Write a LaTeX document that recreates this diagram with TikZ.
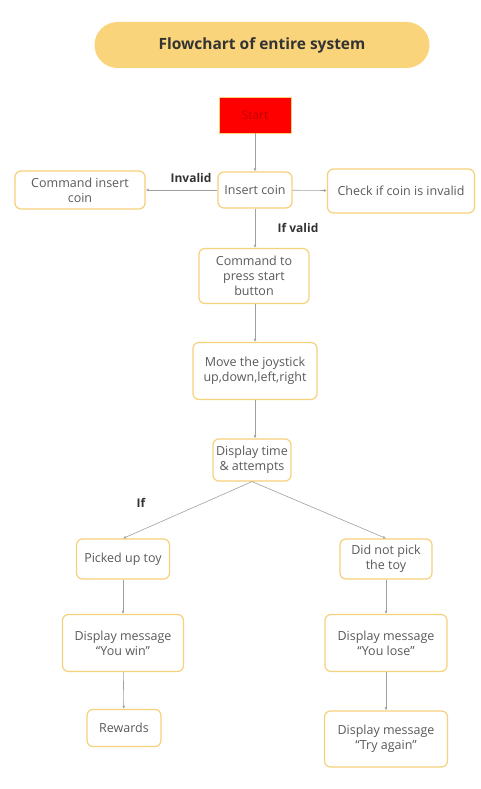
\documentclass[tikz,border=0pt]{standalone}
\usepackage{fontspec}
\setmainfont{Open Sans}
\usetikzlibrary{arrows.meta}
\definecolor{boxline}{HTML}{F7D07A}
\definecolor{pill}{HTML}{F9D47A}
\definecolor{linegray}{HTML}{A0A0A0}
\definecolor{textgray}{HTML}{5A5A5A}
\tikzset{
  box/.style={draw=boxline, line width=1.2pt, rounded corners=6pt, fill=white,
    text=textgray, align=center, inner sep=1pt,
    font=\fontsize{12.5}{15}\selectfont},
  flow/.style={draw=linegray, line width=0.6pt, -{Latex[length=3pt,width=3pt]}},
  tag/.style={font=\bfseries\fontsize{12}{14}\selectfont, text=black!80}
}
\begin{document}
\begin{tikzpicture}[x=1pt, y=-1pt]
\useasboundingbox (0,0) rectangle (481,789);

% title
\node[fill=pill, rounded corners=23pt, minimum width=335pt, minimum height=46pt,
  font=\bfseries\fontsize{15.5}{18}\selectfont, text=black!80] (title) at (262,45)
  {Flowchart of entire system};

% coin part
\node[fill=red, draw=boxline, line width=0.8pt, text=red!75!black,
  minimum width=72pt, minimum height=36pt, font=\fontsize{12}{14}\selectfont]
  (start) at (255,115) {Start};
\node[box, minimum width=74pt, minimum height=36pt] (insert) at (255,190) {Insert coin};
\node[box, minimum width=130pt, minimum height=38pt] (cmdinsert) at (80,190) {Command insert\\coin};
\node[box, minimum width=147pt, minimum height=44pt] (check) at (401,191) {Check if coin is invalid};

\draw[flow] (start) -- (insert);
\draw[flow] (insert) -- (cmdinsert);
\draw[flow] (insert) -- (check);
\node[tag] (invalid) at (191,178) {Invalid};
\node[tag] (ifvalid) at (298,228) {If valid};

% game part
\node[box, minimum width=110pt, minimum height=55pt] (press) at (254,276) {Command to\\press start\\button};
\node[box, minimum width=124pt, minimum height=57pt] (joystick) at (255,371) {Move the joystick\\up,down,left,right};
\node[box, minimum width=78pt, minimum height=42pt] (display) at (252,460) {Display time\\\& attempts};

\draw[flow] (insert.south) -- (insert.south |- press.north);
\draw[flow] (press.south -| joystick.north) -- (joystick.north);
\draw[flow] (joystick.south) -- (joystick.south |- display.north);

% result part
\node[box, minimum width=93pt, minimum height=40pt] (picked) at (123,559) {Picked up toy};
\node[box, minimum width=92pt, minimum height=40pt] (notpick) at (386,559) {Did not pick\\the toy};
\node[tag] (iflabel) at (141,503) {If};

\draw[flow] (display.south) -- (picked.north);
\draw[flow] (display.south) -- (notpick.north);

\node[box, minimum width=121pt, minimum height=57pt] (win) at (123,643) {Display message\\``You win''};
\node[box, minimum width=122pt, minimum height=57pt] (lose) at (386,643) {Display message\\``You lose''};
\node[box, minimum width=74pt, minimum height=37pt] (rewards) at (124,728) {Rewards};
\node[box, minimum width=123pt, minimum height=56pt] (again) at (386,739) {Display message\\``Try again''};

\draw[flow] (picked) -- (win);
\draw[flow] (win) -- (rewards);
\draw[flow] (notpick) -- (lose);
\draw[flow] (lose) -- (again);

\end{tikzpicture}
\end{document}
